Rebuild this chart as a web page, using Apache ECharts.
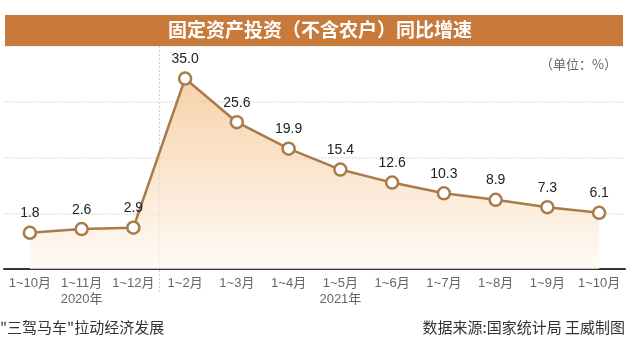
<!DOCTYPE html>
<html>
<head>
<meta charset="utf-8">
<script src="https://cdn.jsdelivr.net/npm/echarts@6/dist/echarts.min.js"></script>
<style>
html,body{margin:0;padding:0;background:#fff}
#chart{width:640px;height:353px}
</style>
</head>
<body>
<div id="chart"></div>
<script>
// 月份
var months = ['1~10月','1~11月','1~12月','1~2月','1~3月','1~4月','1~5月','1~6月','1~7月','1~8月','1~9月','1~10月'];
// 同比增速 %
var growth = [1.8, 2.6, 2.9, 35.0, 25.6, 19.9, 15.4, 12.6, 10.3, 8.9, 7.3, 6.1];
// 年份标注，放在对应月份下面
var yearAt = {1: '2020年', 6: '2021年'};
var splitIndex = 3; // 2020/2021 分隔

var font = 'Liberation Sans, Noto Sans CJK SC, sans-serif';
var myChart = echarts.init(document.getElementById('chart'));

var option = {
    animation: false,
    grid: {left: 4, right: 15, top: 46, bottom: 84, show: false, borderWidth: 0},
    graphic: [
        {id: 'bar', type: 'rect', shape: {x: 5, y: 15, width: 618, height: 31}, style: {fill: '#C87A3B'}, z: 10},
        {id: 'title', type: 'text', x: 320, y: 30, z: 11, style: {text: '固定资产投资（不含农户）同比增速', fill: '#fff', font: 'bold 19px Noto Sans CJK SC', textAlign: 'center', textVerticalAlign: 'middle'}},
        {id: 'unit', type: 'text', x: 617, y: 64, style: {text: '（单位：%）', fill: '#666', font: '13px Noto Sans CJK SC', textAlign: 'right', textVerticalAlign: 'middle'}},
        {id: 'foot1', type: 'text', x: 0, y: 327, style: {text: '"三驾马车"拉动经济发展', fill: '#333', font: '15px Noto Sans CJK SC', textVerticalAlign: 'middle'}},
        {id: 'foot2', type: 'text', x: 625, y: 327, style: {text: '数据来源:国家统计局 王威制图', fill: '#333', font: '15px Noto Sans CJK SC', textAlign: 'right', textVerticalAlign: 'middle'}}
    ],
    xAxis: {
        type: 'category',
        data: months,
        boundaryGap: true,
        axisLine: {onZero: false, lineStyle: {color: '#333', width: 2}},
        axisTick: {show: false},
        axisLabel: {
            interval: 0,
            margin: 6,
            color: '#666',
            fontSize: 13,
            lineHeight: 16,
            fontFamily: font,
            formatter: function (v, i) {
                return yearAt[i] ? v + '\n' + yearAt[i] : v;
            }
        },
        splitLine: {show: false},
        splitArea: {show: false}
    },
    yAxis: {
        type: 'value',
        min: -6,
        max: 42,
        interval: 12,
        axisLine: {show: false},
        axisTick: {show: false},
        axisLabel: {show: false},
        splitArea: {show: false},
        splitLine: {lineStyle: {color: '#ddd', type: 'dotted', width: 1.5}}
    },
    series: [{
        type: 'line',
        data: growth,
        symbol: 'circle',
        symbolSize: 12,
        z: 3,
        itemStyle: {color: '#fff', borderColor: '#A97B4B', borderWidth: 2.5},
        lineStyle: {color: '#A97B4B', width: 2.5},
        areaStyle: {
            origin: 'start',
            color: new echarts.graphic.LinearGradient(0, 0, 0, 1, [
                {offset: 0, color: '#F3BE86'},
                {offset: 1, color: '#FEF8F0'}
            ])
        },
        label: {
            show: true,
            position: 'top',
            distance: 5,
            color: '#222',
            fontSize: 14,
            fontFamily: font,
            formatter: function (p) { return p.value.toFixed(1); }
        }
    }]
};
myChart.setOption(option);

// 年份分隔线：取 1~12月 和 1~2月 中间
var xa = myChart.convertToPixel({xAxisIndex: 0}, splitIndex - 1);
var xb = myChart.convertToPixel({xAxisIndex: 0}, splitIndex);
var sx = Math.round((xa + xb) / 2) + 0.5;
myChart.setOption({
    graphic: [{
        id: 'yearSplit',
        type: 'line',
        z: 1,
        shape: {x1: sx, y1: 46, x2: sx, y2: 294},
        style: {stroke: '#cfcfcf', lineWidth: 1, lineDash: [2, 2]}
    }]
});
</script>
</body>
</html>
